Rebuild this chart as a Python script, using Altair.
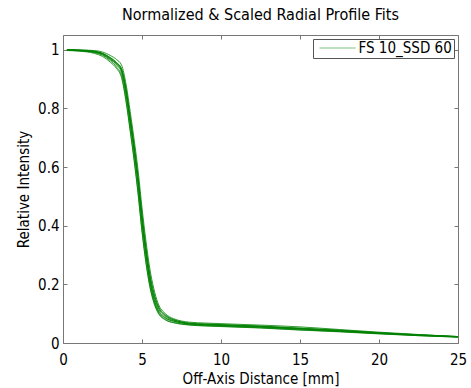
import altair as alt
import pandas as pd

# Off-axis positions (mm) at which each fitted profile is sampled
xs = [0.25, 1.0, 2.0, 2.5, 3.0, 3.4, 3.7, 4.0, 4.25, 4.5, 4.75, 5.0, 5.25, 5.5,
      5.75, 6.0, 6.5, 7.0, 7.5, 8.0, 9.0, 10.0, 12.5, 15.0, 17.5, 20.0, 22.5, 25.0]

c1 = [1.000, 0.998, 0.993, 0.986, 0.970, 0.952, 0.928, 0.850, 0.757, 0.660, 0.550, 0.420, 0.310, 0.220,
      0.160, 0.122, 0.090, 0.077, 0.070, 0.066, 0.063, 0.061, 0.056, 0.049, 0.042, 0.034, 0.027, 0.021]
c2 = [1.000, 0.999, 0.997, 0.992, 0.980, 0.966, 0.948, 0.880, 0.790, 0.695, 0.590, 0.462, 0.348, 0.252,
      0.185, 0.138, 0.099, 0.083, 0.075, 0.071, 0.068, 0.066, 0.061, 0.055, 0.046, 0.037, 0.029, 0.022]
c3 = [0.997, 0.995, 0.987, 0.977, 0.957, 0.935, 0.905, 0.818, 0.722, 0.622, 0.508, 0.378, 0.272, 0.190,
      0.137, 0.104, 0.078, 0.069, 0.064, 0.061, 0.058, 0.056, 0.051, 0.044, 0.038, 0.031, 0.025, 0.020]
c4 = [1.000, 0.997, 0.991, 0.983, 0.966, 0.947, 0.922, 0.842, 0.748, 0.650, 0.540, 0.410, 0.300, 0.212,
      0.153, 0.116, 0.086, 0.074, 0.068, 0.064, 0.061, 0.059, 0.054, 0.047, 0.040, 0.033, 0.026, 0.021]
c5 = [1.000, 0.999, 0.995, 0.988, 0.973, 0.956, 0.934, 0.860, 0.768, 0.672, 0.563, 0.435, 0.322, 0.230,
      0.168, 0.127, 0.093, 0.079, 0.072, 0.068, 0.065, 0.063, 0.058, 0.051, 0.044, 0.035, 0.028, 0.022]
c6 = [0.999, 0.997, 0.992, 0.985, 0.968, 0.950, 0.930, 0.855, 0.762, 0.662, 0.548, 0.415, 0.302, 0.208,
      0.148, 0.112, 0.084, 0.075, 0.069, 0.065, 0.062, 0.060, 0.055, 0.048, 0.041, 0.033, 0.027, 0.021]
c7 = [1.000, 0.998, 0.994, 0.987, 0.972, 0.955, 0.936, 0.865, 0.772, 0.676, 0.568, 0.440, 0.328, 0.236,
      0.172, 0.130, 0.095, 0.080, 0.072, 0.067, 0.064, 0.062, 0.057, 0.050, 0.043, 0.035, 0.028, 0.022]
c8 = [0.998, 0.996, 0.990, 0.981, 0.962, 0.940, 0.912, 0.826, 0.730, 0.628, 0.515, 0.385, 0.278, 0.196,
      0.141, 0.107, 0.080, 0.070, 0.065, 0.062, 0.059, 0.057, 0.052, 0.045, 0.039, 0.032, 0.025, 0.020]

curves = [c1, c2, c3, c4, c5, c6, c7, c8]
series_label = "FS 10_SSD 60"

x_ticks = [0, 5, 10, 15, 20, 25]
y_ticks = [0, 0.2, 0.4, 0.6, 0.8, 1.0]

rows = []
for i, c in enumerate(curves):
    for x, y in zip(xs, c):
        rows.append({"x": x, "y": y, "curve": f"c{i+1}", "profile": series_label})
df = pd.DataFrame(rows)

FONT = "DejaVu Sans Condensed, DejaVu Sans"
xscale = alt.Scale(domain=[0, 25], nice=False, zero=False)
yscale = alt.Scale(domain=[0, 1.05], nice=False, zero=False)

axis_text = dict(labelFont=FONT, labelFontSize=15, labelColor="black", titleFont=FONT,
                 titleFontSize=15, titleFontWeight="normal", titleColor="black", tickColor="#777")

main = alt.Chart(df).mark_line(strokeWidth=0.8, interpolate="monotone").encode(
    x=alt.X("x:Q", scale=xscale, axis=alt.Axis(
        orient="bottom", values=x_ticks, offset=-4, tickSize=4, labelPadding=9,
        domain=False, grid=False, labelFlush=False, labelOverlap=False,
        title="Off-Axis Distance [mm]", titlePadding=4, **axis_text)),
    y=alt.Y("y:Q", scale=yscale, axis=alt.Axis(
        orient="left", values=y_ticks, format="~g", offset=-4, tickSize=4, labelPadding=4,
        domain=False, grid=False, labelFlush=False, labelOverlap=False,
        title="Relative Intensity", titlePadding=6, **axis_text)),
    detail="curve:N",
    color=alt.Color("profile:N", scale=alt.Scale(range=["#008000"]), legend=alt.Legend(
        title=None, orient="top-right", offset=4,
        symbolType="M-0.36,-0.08H4.8V0.08H-0.36Z", symbolSize=196,
        symbolStrokeWidth=0, symbolFillColor="#7cc47c", symbolOpacity=1,
        labelFont=FONT, labelFontSize=15, labelColor="black", strokeColor="#555",
        fillColor="white", padding=1.5, labelOffset=29, cornerRadius=0, rowPadding=0)),
)

ticks = alt.Chart(df).mark_line(opacity=0).encode(
    x=alt.X("x:Q", scale=xscale, axis=alt.Axis(
        orient="top", values=x_ticks, offset=-4, tickSize=4, labels=False,
        domain=False, grid=False, title=None, tickColor="#777")),
    y=alt.Y("y:Q", scale=yscale, axis=alt.Axis(
        orient="right", values=y_ticks, offset=-4, tickSize=4, labels=False,
        domain=False, grid=False, title=None, tickColor="#777")),
    detail="curve:N",
)

chart = alt.layer(main, ticks).resolve_scale(x="independent", y="independent").properties(
    width=395, height=308,
    background="white",
    autosize=alt.AutoSizeParams(type="none"),
    padding={"left": 63, "top": 35, "right": 13, "bottom": 45},
    title=alt.Title("Normalized & Scaled Radial Profile Fits", font=FONT, fontSize=16,
                    fontWeight="normal", color="black", offset=12),
).configure_view(stroke="#777", strokeWidth=1)

chart.save("out.html", embed_options={"renderer": "svg", "actions": False})
